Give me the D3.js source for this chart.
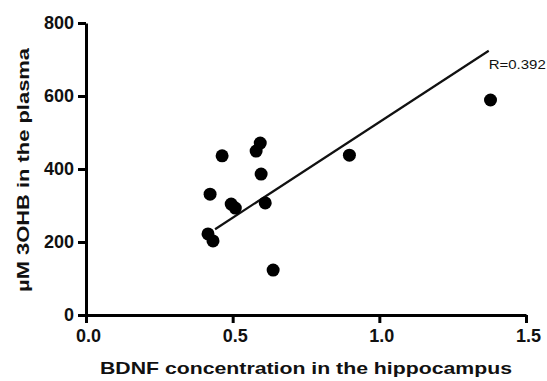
<!DOCTYPE html>
<html>
<head>
<meta charset="utf-8">
<script src="https://cdn.jsdelivr.net/npm/d3@7"></script>
<style>
  html, body { margin: 0; padding: 0; background: #fff; }
  svg { display: block; }
  text { font-family: "Liberation Sans", Arial, sans-serif; fill: #111; }
</style>
</head>
<body>
<svg id="chart" width="547" height="381"></svg>
<script>
// Data
const bdnf = [0.416, 0.433, 0.423, 0.464, 0.495, 0.509, 0.580, 0.594, 0.597, 0.611, 0.638, 0.898, 1.379];
const ohb  = [222,   203,   331,   436,   304,   293,   449,   471,   386,   307,   123,   438,   589];
const fitX = [0.44, 1.373];
const fitY = [235, 724];
const xTicks = [0, 0.5, 1.0, 1.5];
const yTicks = [0, 200, 400, 600, 800];
const xTitle = "BDNF concentration in the hippocampus";
const yTitle = "\u00B5M 3OHB in the plasma";
const rLabel = "R=0.392";

const svg = d3.select("#chart");
const x = d3.scaleLinear().domain([0, 1.5]).range([86, 526]);
const y = d3.scaleLinear().domain([0, 800]).range([315, 23]);

// Axes
const gx = svg.append("g").attr("transform", `translate(0,${y(0)})`)
  .call(d3.axisBottom(x).tickValues(xTicks).tickFormat(d3.format(".1f")).tickSize(8).tickSizeOuter(0).tickPadding(6));
const gy = svg.append("g").attr("transform", `translate(${x(0)},0)`)
  .call(d3.axisLeft(y).tickValues(yTicks).tickFormat(d3.format("d")).tickSize(8).tickSizeOuter(0).tickPadding(4));

[gx, gy].forEach(g => {
  g.select(".domain").attr("stroke", "#000").attr("stroke-width", 3);
  g.selectAll(".tick line").attr("stroke", "#000").attr("stroke-width", 3);
  g.selectAll(".tick text")
    .style("font-family", '"Liberation Sans", Arial, sans-serif')
    .style("font-size", "18px").style("font-weight", "bold").attr("fill", "#111");
});
gx.selectAll(".tick text").attr("dx", 2);

// Regression line
svg.append("line")
  .attr("x1", x(fitX[0])).attr("y1", y(fitY[0]))
  .attr("x2", x(fitX[1])).attr("y2", y(fitY[1]))
  .attr("stroke", "#111").attr("stroke-width", 2.2);

// Points
svg.append("g").selectAll("circle")
  .data(bdnf.map((v, i) => [v, ohb[i]]))
  .join("circle")
  .attr("cx", d => x(d[0])).attr("cy", d => y(d[1]))
  .attr("r", 6.5).attr("fill", "#000");

// R label
svg.append("text")
  .attr("x", x(fitX[1])).attr("y", y(fitY[1]) + 18)
  .attr("textLength", 57).attr("lengthAdjust", "spacingAndGlyphs")
  .style("font-size", "13px")
  .text(rLabel);

// Axis titles
svg.append("text")
  .attr("x", 306).attr("y", 374)
  .attr("text-anchor", "middle")
  .attr("textLength", 412).attr("lengthAdjust", "spacingAndGlyphs")
  .style("font-size", "17px").style("font-weight", "bold")
  .text(xTitle);

svg.append("text")
  .attr("transform", "translate(29,170) rotate(-90)")
  .attr("text-anchor", "middle")
  .attr("textLength", 244).attr("lengthAdjust", "spacingAndGlyphs")
  .style("font-size", "17px").style("font-weight", "bold")
  .text(yTitle);
</script>
</body>
</html>
